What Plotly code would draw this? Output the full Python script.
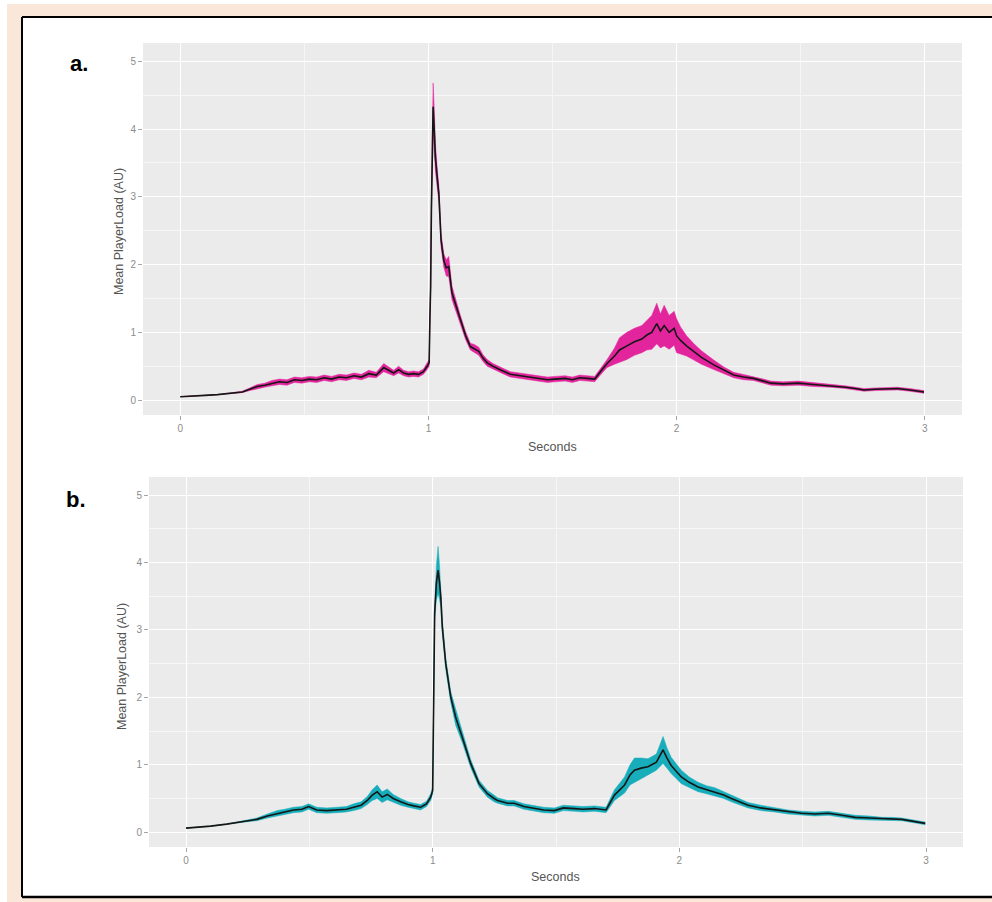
import plotly.graph_objects as go

W, H = 992, 902

# ---------------- data: panel a (magenta) ----------------
t_a = [0.00,0.05,0.10,0.15,0.20,0.25,0.28,0.31,0.34,0.37,
       0.40,0.43,0.46,0.49,0.52,0.55,0.58,0.61,0.64,0.67,
       0.70,0.73,0.76,0.79,0.82,0.84,0.86,0.88,0.90,0.92,
       0.94,0.96,0.98,0.995,1.003,1.006,1.009,1.012,1.016,1.019,
       1.024,1.028,1.035,1.042,1.051,1.062,1.072,1.082,1.095,1.11,
       1.129,1.15,1.169,1.185,1.203,1.22,1.237,1.26,1.28,1.30,
       1.33,1.37,1.41,1.45,1.48,1.51,1.55,1.58,1.61,1.64,
       1.67,1.70,1.72,1.75,1.77,1.80,1.83,1.86,1.88,1.90,
       1.92,1.935,1.95,1.97,1.99,2.00,2.016,2.04,2.07,2.10,
       2.15,2.19,2.23,2.27,2.31,2.35,2.38,2.43,2.49,2.55,
       2.62,2.68,2.72,2.755,2.80,2.85,2.89,2.94,2.997]
mean_a = [0.05,0.055,0.07,0.08,0.10,0.12,0.16,0.20,0.22,0.25,
          0.27,0.26,0.30,0.29,0.31,0.30,0.33,0.31,0.34,0.33,
          0.36,0.34,0.39,0.37,0.48,0.44,0.40,0.45,0.40,0.38,
          0.39,0.38,0.42,0.50,0.55,1.20,1.67,2.80,3.90,4.33,
          3.95,3.59,3.30,3.05,2.36,2.06,1.95,1.97,1.58,1.40,
          1.18,0.95,0.79,0.76,0.72,0.62,0.55,0.50,0.46,0.43,
          0.38,0.36,0.33,0.32,0.30,0.31,0.32,0.30,0.33,0.32,
          0.31,0.45,0.54,0.65,0.74,0.80,0.86,0.90,0.96,1.00,
          1.13,1.02,1.10,1.00,1.06,0.95,0.88,0.80,0.71,0.63,
          0.52,0.44,0.37,0.34,0.32,0.28,0.25,0.24,0.25,0.23,
          0.21,0.19,0.17,0.15,0.16,0.16,0.17,0.15,0.12]
spread_a = [0,0,0,0,0,0.01,0.02,0.03,0.03,0.04,
            0.04,0.04,0.04,0.04,0.04,0.04,0.04,0.04,0.04,0.04,
            0.04,0.04,0.05,0.04,0.06,0.05,0.04,0.05,0.04,0.04,
            0.04,0.04,0.04,0.05,0.05,0.05,0.05,0.10,0.30,0.35,
            0.30,0.20,0.15,0.12,0.10,0.10,0.12,0.15,0.10,0.08,
            0.07,0.06,0.05,0.06,0.06,0.05,0.05,0.04,0.04,0.04,
            0.04,0.04,0.04,0.04,0.04,0.04,0.04,0.04,0.04,0.04,
            0.04,0.05,0.06,0.12,0.18,0.20,0.20,0.20,0.22,0.25,
            0.30,0.25,0.30,0.25,0.25,0.25,0.20,0.15,0.12,0.10,
            0.07,0.05,0.04,0.04,0.03,0.03,0.03,0.03,0.03,0.03,
            0.02,0.02,0.02,0.02,0.02,0.02,0.02,0.02,0.02]

# ---------------- data: panel b (cyan) ----------------
t_b = [0.00,0.05,0.10,0.165,0.22,0.287,0.33,0.37,0.40,0.436,
       0.47,0.497,0.53,0.57,0.613,0.65,0.68,0.71,0.735,0.755,
       0.775,0.795,0.816,0.84,0.87,0.90,0.924,0.951,0.975,0.992,
       1.000,1.003,1.008,1.015,1.022,1.028,1.033,1.039,1.053,1.073,
       1.093,1.12,1.154,1.188,1.222,1.249,1.263,1.304,1.33,1.37,
       1.412,1.45,1.493,1.53,1.574,1.61,1.656,1.703,1.737,1.778,
       1.80,1.818,1.845,1.873,1.907,1.934,1.95,1.967,2.008,2.04,
       2.076,2.11,2.144,2.18,2.211,2.245,2.279,2.33,2.387,2.44,
       2.496,2.55,2.604,2.66,2.713,2.77,2.821,2.86,2.902,2.95,
       2.997]
mean_b = [0.06,0.07,0.09,0.12,0.15,0.19,0.24,0.28,0.30,0.33,
          0.34,0.38,0.33,0.32,0.33,0.34,0.37,0.40,0.47,0.55,
          0.60,0.52,0.56,0.50,0.45,0.41,0.39,0.37,0.42,0.52,
          0.62,1.41,3.24,3.70,3.89,3.70,3.49,3.05,2.50,2.01,
          1.71,1.41,1.02,0.72,0.57,0.50,0.47,0.43,0.43,0.38,
          0.35,0.33,0.32,0.36,0.35,0.34,0.35,0.33,0.55,0.70,
          0.85,0.92,0.95,0.97,1.04,1.22,1.10,0.99,0.82,0.74,
          0.67,0.63,0.60,0.55,0.50,0.45,0.40,0.36,0.33,0.30,
          0.28,0.27,0.28,0.25,0.22,0.21,0.20,0.20,0.19,0.16,
          0.13]
spread_b = [0,0,0,0,0.01,0.02,0.03,0.04,0.04,0.04,
            0.04,0.04,0.04,0.04,0.04,0.04,0.05,0.05,0.06,0.08,
            0.10,0.08,0.08,0.06,0.05,0.04,0.04,0.04,0.04,0.05,
            0.05,0.05,0.10,0.25,0.35,0.25,0.15,0.10,0.08,0.08,
            0.12,0.08,0.06,0.05,0.05,0.05,0.04,0.04,0.04,0.04,
            0.04,0.04,0.04,0.04,0.04,0.04,0.04,0.04,0.08,0.12,
            0.15,0.18,0.15,0.12,0.12,0.20,0.15,0.12,0.10,0.08,
            0.07,0.06,0.06,0.05,0.05,0.04,0.04,0.04,0.03,0.03,
            0.03,0.03,0.03,0.03,0.03,0.03,0.02,0.02,0.02,0.02,
            0.02]

x_ticks = [0, 1, 2, 3]
y_ticks = [0, 1, 2, 3, 4, 5]
panel_labels = ["a.", "b."]
y_title = "Mean PlayerLoad (AU)"
x_title = "Seconds"

RIBBON_A = "#E3259D"
RIBBON_B = "#17ADBB"
LINE = "#161616"
PEACH = "#FAE7D9"


def px(x):
    return x / W


def py(y):
    return 1 - y / H


fig = go.Figure()


def add_panel(t, mean, spread, color, xa, ya):
    lo = [m - s for m, s in zip(mean, spread)]
    hi = [m + s for m, s in zip(mean, spread)]
    fig.add_trace(go.Scatter(x=t, y=lo, mode="lines", line=dict(width=0.5, color=color),
                             xaxis=xa, yaxis=ya, showlegend=False, hoverinfo="skip"))
    fig.add_trace(go.Scatter(x=t, y=hi, mode="lines", line=dict(width=0.5, color=color),
                             fill="tonexty", fillcolor=color,
                             xaxis=xa, yaxis=ya, showlegend=False, hoverinfo="skip"))
    fig.add_trace(go.Scatter(x=t, y=mean, mode="lines", line=dict(width=1.6, color=LINE),
                             xaxis=xa, yaxis=ya, showlegend=False))


add_panel(t_a, mean_a, spread_a, RIBBON_A, "x", "y")
add_panel(t_b, mean_b, spread_b, RIBBON_B, "x2", "y2")

tickfont = dict(family="Liberation Sans, Arial, sans-serif", size=10, color="#8c8c8c")
common_x = dict(range=[-0.15, 3.15], tickvals=x_ticks, showgrid=True, gridcolor="white",
                gridwidth=1.3, zeroline=False, ticks="outside", ticklen=4, tickwidth=1,
                tickcolor="#a6a6a6", tickfont=tickfont, showline=False,
                minor=dict(dtick=0.5, tick0=0, showgrid=True, gridcolor="#F6F6F6", gridwidth=1))
common_y = dict(range=[-0.22, 5.27], tickvals=y_ticks, showgrid=True, gridcolor="white",
                gridwidth=1.3, zeroline=False, ticks="outside", ticklen=4, tickwidth=1,
                tickcolor="#a6a6a6", tickfont=tickfont, showline=False,
                minor=dict(dtick=0.5, tick0=0, showgrid=True, gridcolor="#F6F6F6", gridwidth=1))

fig.update_layout(
    width=W, height=H,
    margin=dict(l=0, r=0, t=0, b=0),
    paper_bgcolor="white",
    plot_bgcolor="#EBEBEB",
    xaxis=dict(domain=[px(143), px(962)], anchor="y", **common_x),
    yaxis=dict(domain=[py(415), py(43)], anchor="x", **common_y),
    xaxis2=dict(domain=[px(149), px(963)], anchor="y2", **common_x),
    yaxis2=dict(domain=[py(847), py(477)], anchor="x2", **common_y),
    font=dict(family="Liberation Sans, Arial, sans-serif"),
)

# frame: peach bands around a white card with black border
shapes = [
    dict(type="rect", xref="paper", yref="paper", x0=px(7), x1=1.0, y0=py(17), y1=py(4),
         fillcolor=PEACH, line=dict(width=0), layer="below"),
    dict(type="rect", xref="paper", yref="paper", x0=px(7), x1=px(22), y0=0, y1=py(4),
         fillcolor=PEACH, line=dict(width=0), layer="below"),
    dict(type="rect", xref="paper", yref="paper", x0=px(7), x1=1.0, y0=0, y1=py(897),
         fillcolor=PEACH, line=dict(width=0), layer="below"),
    dict(type="line", xref="paper", yref="paper", x0=px(22), x1=1.0, y0=py(17), y1=py(17),
         line=dict(color="black", width=2), layer="below"),
    dict(type="line", xref="paper", yref="paper", x0=px(22), x1=1.0, y0=py(897), y1=py(897),
         line=dict(color="black", width=2.5), layer="below"),
    dict(type="line", xref="paper", yref="paper", x0=px(22), x1=px(22), y0=py(897), y1=py(17),
         line=dict(color="black", width=2), layer="below"),
]
fig.update_layout(shapes=shapes)

ann = []
title_font = dict(family="Liberation Sans, Arial, sans-serif", size=12.5, color="#555555")
for lbl, (xx, yy) in zip(panel_labels, [(79, 64), (76, 499)]):
    ann.append(dict(text=f"<b>{lbl}</b>", x=px(xx), y=py(yy), xref="paper", yref="paper",
                    showarrow=False, xanchor="center", yanchor="middle",
                    font=dict(family="Liberation Sans, Arial, sans-serif", size=22, color="black")))
for (xx, yy) in [(119, 232), (122, 667)]:
    ann.append(dict(text=y_title, x=px(xx), y=py(yy), xref="paper", yref="paper", textangle=-90,
                    showarrow=False, xanchor="center", yanchor="middle", font=title_font))
for (xx, yy) in [(552, 447), (555, 877)]:
    ann.append(dict(text=x_title, x=px(xx), y=py(yy), xref="paper", yref="paper",
                    showarrow=False, xanchor="center", yanchor="middle", font=title_font))
fig.update_layout(annotations=ann)

fig.write_html("out.html", config={"displayModeBar": False},
               post_script="document.body.style.margin='0';document.body.style.overflow='hidden';")
